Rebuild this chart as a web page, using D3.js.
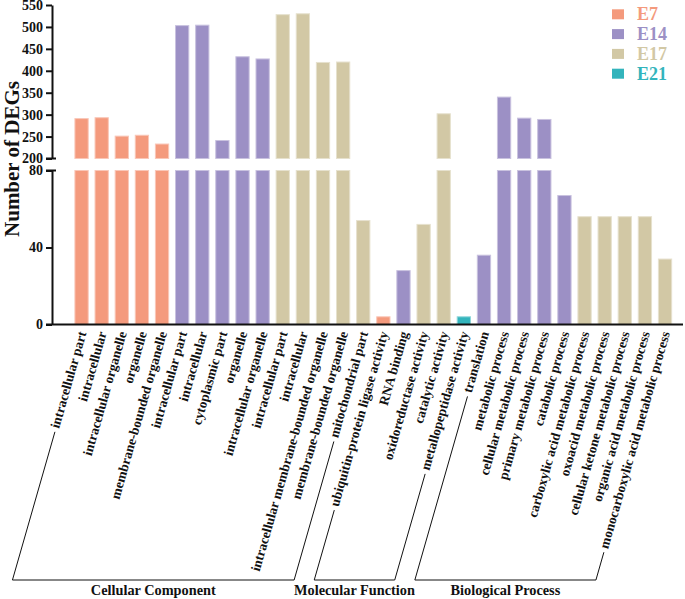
<!DOCTYPE html>
<html>
<head>
<meta charset="utf-8">
<script src="https://cdn.jsdelivr.net/npm/d3@7"></script>
<style>
  html, body { margin: 0; padding: 0; background: #ffffff; }
  svg { display: block; }
</style>
</head>
<body>
<svg id="chart" width="685" height="599"></svg>
<script>
// ---------- data ----------
const categories = [
  "intracellular part", "intracellular", "intracellular organelle", "organelle", "membrane-bounded organelle",
  "intracellular part", "intracellular", "cytoplasmic part", "organelle", "intracellular organelle",
  "intracellular part", "intracellular", "intracellular membrane-bounded organelle", "membrane-bounded organelle", "mitochondrial part",
  "ubiquitin-protein ligase activity", "RNA binding", "oxidoreductase activity", "catalytic activity", "metallopeptidase activity",
  "translation", "metabolic process", "cellular metabolic process", "primary metabolic process", "catabolic process",
  "carboxylic acid metabolic process", "oxoacid metabolic process", "cellular ketone metabolic process", "organic acid metabolic process", "monocarboxylic acid metabolic process"
];
const values = [
  291, 293, 251, 253, 233,
  503, 504, 241, 432, 427,
  528, 530, 419, 420, 54,
  4, 28, 52, 302, 4,
  36, 340, 292, 289, 67,
  56, 56, 56, 56, 34
];
const stages = [
  "E7", "E7", "E7", "E7", "E7",
  "E14", "E14", "E14", "E14", "E14",
  "E17", "E17", "E17", "E17", "E17",
  "E7", "E14", "E17", "E17", "E21",
  "E14", "E14", "E14", "E14", "E14",
  "E17", "E17", "E17", "E17", "E17"
];
const seriesNames = ["E7", "E14", "E17", "E21"];
const seriesColors = ["#F49A7D", "#9C90C5", "#D2C8A5", "#33B4BC"];
const groupNames = ["Cellular Component", "Molecular Function", "Biological Process"];
const groupStart = [0, 15, 20];
const groupEnd = [14, 19, 29];
const topTicks = [200, 250, 300, 350, 400, 450, 500, 550];
const bottomTicks = [0, 40, 80];
const yTitle = "Number of DEGs";

// ---------- layout ----------
const FONT = "'Liberation Serif', 'Times New Roman', Times, serif";
const svg = d3.select("#chart");
const axisX = 52;
const xRight = 683;
const x = d3.scaleBand()
  .domain(d3.range(categories.length))
  .range([71.5, 675.1])
  .paddingInner(0.34)
  .paddingOuter(0.17);
const yTop = d3.scaleLinear().domain([200, 550]).range([158.5, 5]);
const yBot = d3.scaleLinear().domain([0, 80]).range([324.5, 170.5]);
const color = d3.scaleOrdinal().domain(seriesNames).range(seriesColors);
const lighter = c => d3.interpolateRgb(c, "#ffffff")(0.45);
function font(sel, size) {
  return sel.style("font-family", FONT).style("font-weight", "bold").style("font-size", size);
}

// ---------- bars ----------
const bars = svg.append("g");
values.forEach((v, i) => {
  const c = color(stages[i]);
  const bx = x(i), bw = x.bandwidth();
  const capped = Math.min(v, yBot.domain()[1]);
  bars.append("rect")
    .attr("x", bx).attr("width", bw)
    .attr("y", yBot(capped)).attr("height", yBot(0) - yBot(capped))
    .attr("fill", c).attr("stroke", lighter(c)).attr("stroke-width", 1);
  if (v > yTop.domain()[0]) {
    bars.append("rect")
      .attr("x", bx).attr("width", bw)
      .attr("y", yTop(v)).attr("height", yTop(yTop.domain()[0]) - yTop(v))
      .attr("fill", c).attr("stroke", lighter(c)).attr("stroke-width", 1);
  }
});

// ---------- axes ----------
function styleAxis(g) {
  g.selectAll("path, line").attr("stroke", "#111").attr("stroke-width", 2);
  font(g.selectAll("text"), "14px").attr("fill", "#111");
}
const gTop = svg.append("g").attr("transform", `translate(${axisX},0)`)
  .call(d3.axisLeft(yTop).tickValues(topTicks).tickSize(6).tickSizeOuter(0).tickPadding(3));
styleAxis(gTop);
const gBot = svg.append("g").attr("transform", `translate(${axisX},0)`)
  .call(d3.axisLeft(yBot).tickValues(bottomTicks).tickSize(6).tickSizeOuter(0).tickPadding(3));
styleAxis(gBot);
// break caps
svg.append("line").attr("x1", axisX - 6).attr("x2", axisX + 4)
  .attr("y1", yTop(200)).attr("y2", yTop(200)).attr("stroke", "#111").attr("stroke-width", 2);
svg.append("line").attr("x1", axisX - 6).attr("x2", axisX + 4)
  .attr("y1", yBot(80)).attr("y2", yBot(80)).attr("stroke", "#111").attr("stroke-width", 2);
// x baseline
svg.append("line").attr("x1", axisX - 6).attr("x2", xRight)
  .attr("y1", yBot(0)).attr("y2", yBot(0)).attr("stroke", "#111").attr("stroke-width", 2);

// y title
font(svg.append("text")
  .attr("transform", `translate(19,159) rotate(-90)`)
  .attr("text-anchor", "middle")
  .attr("fill", "#111"), "21px")
  .text(yTitle);

// ---------- category labels ----------
const ang = -74;
const rad = ang * Math.PI / 180;
const dirX = Math.cos(rad), dirY = Math.sin(rad); // text direction (up-right)
const labelY = 333;
const labelDx = 5;
const labels = svg.append("g");
const lengths = [];
categories.forEach((c, i) => {
  const ax = x(i) + x.bandwidth() / 2 + labelDx;
  const t = font(labels.append("text")
    .attr("transform", `translate(${ax},${labelY}) rotate(${ang})`)
    .attr("text-anchor", "end")
    .attr("fill", "#111"), "13.5px")
    .text(c);
  lengths.push(t.node().getComputedTextLength());
});

// ---------- group brackets ----------
const bracketY = 580;
const gap = 4;
function footAndStart(i) {
  const ax = x(i) + x.bandwidth() / 2 + labelDx - 3;
  const ay = labelY - 1;
  const L = lengths[i] + gap;
  const sx = ax - dirX * L, sy = ay - dirY * L;
  const fx = sx - dirX * ((bracketY - sy) / (-dirY));
  return { sx, sy, fx };
}
const brackets = svg.append("g");
groupNames.forEach((name, gi) => {
  const a = footAndStart(groupStart[gi]);
  const b = footAndStart(groupEnd[gi]);
  brackets.append("path")
    .attr("d", `M${a.sx},${a.sy} L${a.fx},${bracketY} L${b.fx},${bracketY} L${b.sx},${b.sy}`)
    .attr("fill", "none").attr("stroke", "#111").attr("stroke-width", 1);
  font(brackets.append("text")
    .attr("x", (a.fx + b.fx) / 2).attr("y", 595)
    .attr("text-anchor", "middle")
    .attr("fill", "#111"), "14.3px")
    .text(name);
});

// ---------- legend ----------
const legend = svg.append("g");
seriesNames.forEach((s, i) => {
  const cy = 14.3 + i * 19.8;
  legend.append("rect")
    .attr("x", 612).attr("y", cy - 5).attr("width", 12).attr("height", 10)
    .attr("fill", color(s));
  font(legend.append("text")
    .attr("x", 637).attr("y", cy + 6)
    .attr("fill", color(s)), "18px")
    .text(s);
});
</script>
</body>
</html>
